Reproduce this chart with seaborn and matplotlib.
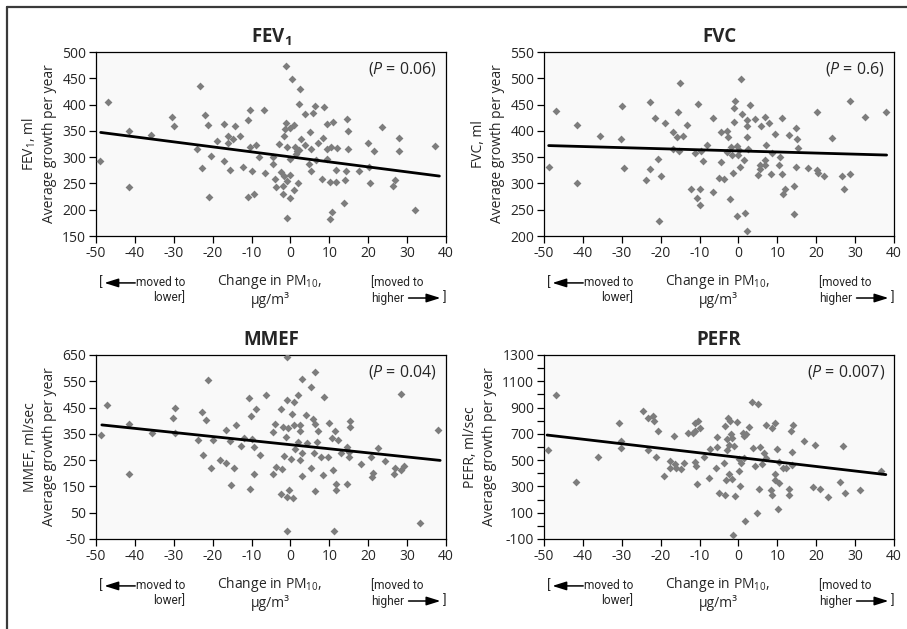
import numpy as np
import pandas as pd
import matplotlib
matplotlib.use("Agg")
import matplotlib.pyplot as plt
from matplotlib.lines import Line2D
import seaborn as sns

# Дані: зміна PM10 (x) та середній річний приріст (y)
fev_x = [-49.0, -46.8, -41.5, -41.4, -35.9, -30.5, -29.9, -23.3, -24.1, -22.8, -22.0, -21.3,
         -21.0, -20.5, -19.0, -17.0, -17.0, -16.1, -16.0, -15.5, -14.8, -14.3, -13.1, -12.3,
         -11.0, -10.3, -11.0, -10.4, -9.9, -9.5, -8.9, -8.2, -6.9, -6.6, -4.6, -4.4, -3.9,
         -3.6, -3.0, -2.5, -1.9, -1.8, -1.7, -1.6, -1.4, -1.2, -1.1, -0.8, -0.8, -0.8, -0.2,
         -0.1, -0.1, -0.1, 0.4, 0.8, 1.0, 1.1, 1.3, 1.9, 2.1, 1.8, 2.3, 2.5, 2.8, 3.7, 3.7,
         4.9, 4.8, 5.4, 5.2, 5.9, 6.3, 6.6, 7.1, 8.0, 8.6, 8.3, 9.3, 9.3, 9.4, 10.2, 10.3,
         10.7, 10.2, 10.9, 11.7, 11.7, 11.9, 13.8, 14.1, 14.4, 14.6, 14.7, 14.7, 17.5, 20.0,
         20.1, 20.4, 21.6, 23.5, 26.4, 27.0, 28.0, 28.0, 32.0, 37.2]
fev_y = [293, 405, 243, 349, 342, 376, 359, 435, 315, 280, 380, 362,
         225, 303, 330, 363, 293, 341, 327, 276, 334, 360, 341, 282,
         371, 390, 225, 319, 273, 230, 323, 301, 390, 270, 287, 301, 259,
         244, 325, 272, 246, 230, 340, 264, 353, 364, 473, 255, 185, 319, 355,
         296, 266, 223, 448, 237, 362, 320, 306, 250, 401, 311, 313, 429, 334, 383, 323,
         348, 287, 315, 273, 384, 398, 294, 326, 259, 395, 336, 363, 297, 316, 253, 320,
         196, 183, 367, 253, 275, 317, 213, 256, 274, 372, 350, 315, 274, 326,
         282, 250, 312, 358, 246, 256, 336, 312, 199, 322]

fvc_x = [-48.7, -46.8, -41.5, -41.4, -35.5, -29.9, -30.1, -29.5, -23.8, -22.7, -22.8, -21.5,
         -20.8, -20.5, -19.9, -18.8, -16.8, -16.8, -15.6, -15.7, -15.3, -15.1, -14.3, -13.3,
         -12.3, -11.1, -10.6, -10.5, -10.0, -10.0, -9.7, -9.2, -8.1, -6.5, -6.5, -4.5, -4.9,
         -4.4, -3.8, -2.9, -2.7, -3.0, -2.1, -1.8, -1.7, -1.3, -1.2, -1.1, -1.0, -0.5, -0.1,
         0.3, -0.5, 0.7, 1.0, 0.1, 1.3, 1.6, 2.2, 2.3, 2.4, 2.3, 2.3, 2.9, 4.2, 5.0, 5.5,
         5.6, 6.7, 6.7, 7.1, 6.8, 5.9, 7.8, 8.4, 9.4, 8.7, 10.5, 10.7, 11.2, 11.3, 12.0,
         11.5, 13.0, 14.2, 14.2, 14.7, 15.0, 14.7, 15.3, 18.0, 20.2, 20.2, 20.5, 22.1, 24.0,
         26.6, 27.1, 28.6, 28.6, 32.6, 38.0]
fvc_y = [332, 438, 301, 412, 391, 447, 384, 329, 307, 455, 327, 424,
         346, 228, 315, 414, 397, 365, 435, 388, 361, 491, 391, 412,
         290, 358, 273, 451, 289, 259, 362, 342, 374, 425, 284, 340, 310,
         397, 308, 400, 389, 360, 270, 369, 355, 320, 443, 416, 456, 371, 354,
         332, 238, 498, 433, 364, 345, 243, 410, 421, 365, 389, 209, 450, 423, 316, 335,
         327, 426, 344, 373, 336, 410, 414, 317, 394, 357, 336, 351, 424, 317, 289,
         279, 393, 296, 242, 406, 384, 332, 367, 329, 436, 326, 319, 315, 386,
         315, 289, 317, 456, 427, 436]

mmef_x = [-48.6, -47.1, -41.4, -41.4, -35.6, -30.1, -29.7, -29.8, -23.9, -22.8, -22.5, -21.6,
          -21.1, -20.4, -19.9, -18.1, -16.7, -16.6, -15.6, -15.2, -14.6, -14.1, -12.6, -12.0,
          -10.7, -10.3, -10.1, -9.8, -9.5, -9.5, -8.8, -7.9, -6.4, -4.4, -4.4, -4.1, -3.8,
          -2.3, -2.4, -2.5, -1.7, -1.9, -1.1, -0.9, -0.9, -0.9, -0.8, -0.6, -0.3, 0.2, 0.4,
          0.7, 1.0, 0.9, 1.2, 1.9, 2.0, 2.4, 2.5, 2.5, 2.9, 3.0, 2.9, 4.0, 4.3, 5.2, 5.3,
          5.8, 6.1, 6.3, 6.3, 6.2, 6.7, 7.1, 7.8, 8.3, 8.6, 9.6, 10.0, 10.7, 10.9, 11.1,
          11.4, 11.6, 11.7, 12.1, 12.9, 14.5, 14.5, 15.0, 15.2, 15.4, 15.1, 18.1, 20.8,
          21.0, 21.3, 22.5, 24.4, 26.6, 27.0, 28.3, 28.5, 29.1, 33.3, 38.0]
mmef_y = [347, 459, 389, 197, 352, 412, 450, 355, 327, 434, 271, 404,
          555, 221, 326, 249, 364, 240, 321, 156, 219, 383, 305, 333,
          486, 141, 418, 329, 299, 198, 445, 268, 496, 198, 357, 388, 223,
          215, 120, 446, 266, 375, 337, 111, -18, 641, 478, 373, 136, 256, 424,
          106, 472, 384, 294, 318, 496, 382, 362, 251, 277, 557, 191, 420, 314, 530, 221,
          408, 277, 584, 388, 132, 319, 362, 262, 193, 489, 262, 393, 336, 212, -18,
          360, 136, 160, 328, 277, 301, 158, 263, 377, 398, 281, 235, 262,
          187, 202, 295, 248, 196, 219, 500, 211, 229, 10, 364]

pefr_x = [-49.0, -47.0, -41.7, -36.1, -30.6, -30.1, -30.1, -24.5, -23.3, -23.3, -21.9, -21.6,
          -20.7, -21.3, -19.2, -17.6, -17.5, -16.6, -16.4, -16.1, -14.8, -14.1, -13.0, -11.3,
          -11.6, -11.1, -10.5, -11.3, -10.8, -10.6, -9.9, -8.9, -7.4, -7.6, -5.8, -5.4, -5.4,
          -4.9, -3.5, -3.4, -3.6, -3.1, -3.0, -2.7, -2.4, -2.9, -2.5, -2.2, -2.0, -1.7, -1.6,
          -1.4, -1.1, -0.8, -0.3, 0.2, 0.2, 0.5, 0.7, 1.2, 1.3, 1.5, 1.8, 2.0, 2.8, 3.6, 3.8,
          4.2, 4.9, 5.3, 4.8, 5.6, 6.6, 7.0, 6.1, 7.1, 8.3, 8.5, 8.6, 9.4, 9.8, 9.5, 9.3,
          10.1, 10.5, 10.5, 11.4, 12.2, 13.0, 13.0, 13.5, 14.1, 13.7, 13.7, 16.9, 19.2, 19.6,
          21.0, 23.0, 26.0, 26.9, 27.4, 31.3, 36.6]
pefr_y = [575, 993, 331, 521, 780, 646, 590, 877, 821, 580, 836, 795,
          719, 527, 382, 496, 438, 684, 468, 438, 435, 476, 709, 780,
          709, 722, 798, 486, 453, 321, 742, 527, 587, 367, 440, 598, 679,
          250, 760, 232, 481, 349, 663, 818, 395, 575, 615, 795, 702, 669, 357,
          -67, 610, 227, 788, 511, 420, 306, 481, 707, 681, 519, 40, 696, 750, 940, 595,
          458, 925, 278, 100, 598, 552, 519, 471, 770, 273, 235, 747, 785, 585, 397, 349,
          126, 324, 483, 438, 438, 278, 235, 724, 765, 559, 463, 646, 296, 618,
          280, 222, 331, 608, 248, 270, 417]

# Лінії регресії (кінцеві точки)
fev_fit_x = [-48.8, 38.3]
fev_fit_y = [347, 264]
fvc_fit_x = [-48.8, 38.1]
fvc_fit_y = [372, 354]
mmef_fit_x = [-48.5, 38.5]
mmef_fit_y = [384, 249]
pefr_fit_x = [-49.2, 37.9]
pefr_fit_y = [691, 390]

titles = [r"$\mathbf{FEV_1}$", "FVC", "MMEF", "PEFR"]
ylabels = ["FEV$_1$, ml\nAverage growth per year",
           "FVC, ml\nAverage growth per year",
           "MMEF, ml/sec\nAverage growth per year",
           "PEFR, ml/sec\nAverage growth per year"]
p_labels = [r"($\mathit{P}$ = 0.06)", r"($\mathit{P}$ = 0.6)",
            r"($\mathit{P}$ = 0.04)", r"($\mathit{P}$ = 0.007)"]
x_ticks = [-50, -40, -30, -20, -10, 0, 10, 20, 30, 40]
fev_ticks = [150, 200, 250, 300, 350, 400, 450, 500]
fvc_ticks = [200, 250, 300, 350, 400, 450, 500, 550]
mmef_ticks = [-50, 50, 150, 250, 350, 450, 550, 650]
pefr_ticks = [-100, 100, 300, 500, 700, 900, 1100, 1300]
pefr_minor = [0, 200, 400, 600, 800, 1000, 1200]

sns.set_theme(style="ticks")
plt.rcParams["font.family"] = ["Open Sans", "DejaVu Sans"]
plt.rcParams["mathtext.fontset"] = "custom"
plt.rcParams["mathtext.rm"] = "Open Sans"
plt.rcParams["mathtext.it"] = "Open Sans:italic"
plt.rcParams["mathtext.bf"] = "Open Sans:bold"
plt.rcParams["axes.unicode_minus"] = False

fig = plt.figure(figsize=(9.07, 6.29), dpi=100)

# рамка зліва і зверху
fig.add_artist(Line2D([7 / 907, 7 / 907], [0, 1 - 7 / 629], color="#3a3a3a", lw=1.6))
fig.add_artist(Line2D([7 / 907, 1], [1 - 7 / 629, 1 - 7 / 629], color="#3a3a3a", lw=1.6))

panels = [
    (fev_x, fev_y, fev_fit_x, fev_fit_y, fev_ticks),
    (fvc_x, fvc_y, fvc_fit_x, fvc_fit_y, fvc_ticks),
    (mmef_x, mmef_y, mmef_fit_x, mmef_fit_y, mmef_ticks),
    (pefr_x, pefr_y, pefr_fit_x, pefr_fit_y, pefr_ticks),
]
lefts = [96, 544, 96, 544]
tops = [52, 52, 355, 355]
narrow = ["Roboto", "DejaVu Sans"]
nsize = 8.6

for i, (xs, ys, fx, fy, yt) in enumerate(panels):
    ax = fig.add_axes([lefts[i] / 907, 1 - (tops[i] + 184) / 629, 350 / 907, 184 / 629])
    ax.set_facecolor("#f9f9f9")
    df = pd.DataFrame({"x": xs, "y": ys})
    sns.scatterplot(data=df, x="x", y="y", ax=ax, marker="D", s=16,
                    color="#7d7d7d", linewidth=0, zorder=3)
    line_df = pd.DataFrame({"x": fx, "y": fy})
    sns.lineplot(data=line_df, x="x", y="y", ax=ax, color="black", lw=2.0, zorder=4)

    ax.set_xlim(-50, 40)
    ax.set_ylim(yt[0], yt[-1])
    ax.set_xticks(x_ticks)
    ax.set_yticks(yt)
    if i == 3:
        ax.set_yticks(pefr_minor, minor=True)
        ax.tick_params(axis="y", which="minor", length=5, width=0.9, color="black")
    ax.tick_params(axis="both", which="major", length=5, width=0.9, color="black",
                   labelsize=10, pad=2, direction="out")
    for sp in ax.spines.values():
        sp.set_color("black")
        sp.set_linewidth(0.9)

    ax.set_title(titles[i], fontsize=13.5, fontweight="bold", pad=7)
    ax.set_ylabel(ylabels[i], fontsize=10, labelpad=4, linespacing=1.35)
    ax.set_xlabel("")
    ax.text(0.974, 0.905, p_labels[i], transform=ax.transAxes, ha="right",
            va="center", fontsize=11.5)

    # підпис осі X та пояснення напрямку
    ax.text(0.497, -0.245, "Change in PM$_{10}$,", transform=ax.transAxes,
            ha="center", va="center", fontsize=10)
    ax.text(0.497, -0.35, "µg/m³", transform=ax.transAxes,
            ha="center", va="center", fontsize=10)
    ax.text(0.009, -0.255, "[", transform=ax.transAxes, ha="left", va="center",
            fontsize=nsize + 1, family=narrow)
    ax.annotate("", xy=(0.024, -0.255), xytext=(0.112, -0.255), xycoords="axes fraction",
                arrowprops=dict(arrowstyle="-|>,head_length=0.7,head_width=0.22",
                                color="black", lw=1.1, shrinkA=0, shrinkB=0))
    ax.text(0.254, -0.255, "moved to", transform=ax.transAxes, ha="right",
            va="center", fontsize=nsize, family=narrow)
    ax.text(0.254, -0.337, "lower]", transform=ax.transAxes, ha="right",
            va="center", fontsize=nsize, family=narrow)
    ax.text(0.786, -0.255, "[moved to", transform=ax.transAxes, ha="left",
            va="center", fontsize=nsize, family=narrow)
    ax.text(0.786, -0.337, "higher", transform=ax.transAxes, ha="left",
            va="center", fontsize=nsize, family=narrow)
    ax.annotate("", xy=(0.984, -0.337), xytext=(0.893, -0.337), xycoords="axes fraction",
                arrowprops=dict(arrowstyle="-|>,head_length=0.7,head_width=0.22",
                                color="black", lw=1.1, shrinkA=0, shrinkB=0))
    ax.text(0.99, -0.337, "]", transform=ax.transAxes, ha="left", va="center",
            fontsize=nsize + 1, family=narrow)

fig.savefig("out.png", dpi=100)
